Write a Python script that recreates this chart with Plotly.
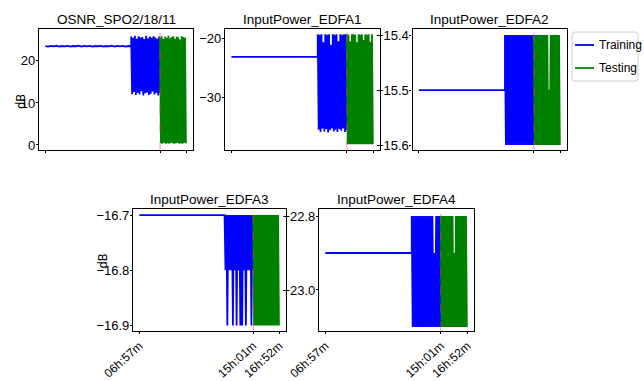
import numpy as np
import plotly.graph_objects as go

# ---------------- data (time in minutes since midnight) ----------------
tick_minutes = [417, 901, 1012]
tick_labels = ["06h:57m", "15h:01m", "16h:52m"]
t_start, t_dense, t_split, t_end = 417, 779, 901, 1010

titles = ["OSNR_SPO2/18/11", "InputPower_EDFA1", "InputPower_EDFA2",
          "InputPower_EDFA3", "InputPower_EDFA4"]
series_names = ["Training", "Testing"]

osnr_flat = [23.5, 23.4, 23.6, 23.45, 23.65, 23.4, 23.55, 23.45, 23.6, 23.4, 23.55, 23.5, 23.65, 23.4, 23.6, 23.45,
             23.6, 23.4, 23.55, 23.5, 23.6, 23.4, 23.55, 23.45, 23.65, 23.4, 23.6, 23.45, 23.6, 23.4, 23.55, 23.5]
osnr_train = [25.8, 12.1, 25.5, 12.6, 26.0, 11.9, 25.3, 12.4, 25.9, 12.0, 25.6, 12.8, 25.7, 11.8, 25.2, 12.3,
              26.0, 12.5, 25.4, 11.9, 25.8, 12.2, 25.5, 12.7, 25.9, 12.0, 25.6, 12.4, 25.3, 11.8, 25.8, 12.3]
osnr_test = [25.6, 0.4, 25.9, 0.3, 25.2, 0.5, 25.8, 0.3, 25.5, 0.4, 26.0, 0.3, 25.4, 0.5, 25.7, 0.4,
             25.9, 0.3, 25.3, 0.4, 25.8, 0.5, 25.6, 0.3, 25.1, 0.4, 25.9, 0.3, 25.7, 0.5, 25.5, 0.4]

edfa1_flat = [-23.1, -23.1, -23.1, -23.1, -23.1, -23.1, -23.1, -23.1]
edfa1_train = [-19.2, -35.6, -19.3, -36.0, -19.2, -35.4, -20.6, -35.9, -19.2, -35.5, -19.3, -36.1, -19.2, -35.7, -21.0, -35.4,
               -19.2, -35.9, -19.3, -35.6, -19.2, -36.0, -20.4, -35.5, -19.2, -35.8, -19.3, -35.4, -19.2, -36.0, -19.2, -35.6]
edfa1_test = [-19.2, -38.1, -19.3, -38.1, -20.4, -38.1, -19.2, -38.1, -19.2, -38.1, -19.3, -38.1, -20.6, -38.1, -19.2, -38.1,
              -19.3, -38.1, -19.2, -38.1, -20.2, -38.1, -19.2, -38.1, -19.3, -38.1, -19.2, -38.1, -20.5, -38.1, -19.2, -38.1]

edfa2_flat = [-15.5, -15.5, -15.5, -15.5, -15.5, -15.5, -15.5, -15.5]
edfa2_train = [-15.4, -15.6, -15.4, -15.6, -15.4, -15.6, -15.4, -15.6, -15.4, -15.6, -15.4, -15.6, -15.4, -15.6, -15.4, -15.6,
               -15.4, -15.6, -15.4, -15.6, -15.4, -15.6, -15.4, -15.6, -15.4, -15.6, -15.4, -15.6, -15.4, -15.6, -15.4, -15.6]
edfa2_test = [-15.4, -15.6, -15.4, -15.6, -15.4, -15.6, -15.4, -15.6, -15.4, -15.6, -15.4, -15.6, -15.4, -15.6, -15.4, -15.6,
              -15.4, -15.6, -15.5, -15.6, -15.4, -15.6, -15.4, -15.6, -15.4, -15.6, -15.4, -15.6, -15.4, -15.6, -15.4, -15.6]

edfa3_flat = [-16.7, -16.7, -16.7, -16.7, -16.7, -16.7, -16.7, -16.7]
edfa3_train = [-16.7, -16.8, -16.7, -16.9, -16.7, -16.8, -16.7, -16.8, -16.7, -16.9, -16.7, -16.8, -16.7, -16.9, -16.7, -16.8,
               -16.7, -16.9, -16.7, -16.9, -16.7, -16.8, -16.7, -16.9, -16.7, -16.8, -16.7, -16.8, -16.7, -16.9, -16.7, -16.8]
edfa3_test = [-16.7, -16.9, -16.7, -16.9, -16.7, -16.9, -16.7, -16.9, -16.7, -16.9, -16.7, -16.9, -16.7, -16.9, -16.7, -16.9,
              -16.7, -16.9, -16.7, -16.9, -16.7, -16.9, -16.7, -16.9, -16.7, -16.9, -16.7, -16.9, -16.7, -16.9, -16.7, -16.9]

edfa4_flat = [-22.9, -22.9, -22.9, -22.9, -22.9, -22.9, -22.9, -22.9]
edfa4_train = [-22.8, -23.1, -22.8, -23.1, -22.8, -23.1, -22.8, -23.1, -22.8, -23.1, -22.8, -23.1, -22.8, -23.1, -22.8, -23.1,
               -22.8, -23.1, -22.8, -23.1, -22.8, -23.1, -22.8, -23.1, -22.9, -23.1, -22.8, -23.1, -22.8, -23.1, -22.8, -23.1]
edfa4_test = [-22.8, -23.1, -22.8, -23.1, -22.8, -23.1, -22.8, -23.1, -22.8, -23.1, -22.8, -23.1, -22.8, -23.1, -22.8, -23.1,
              -22.9, -23.1, -22.8, -23.1, -22.8, -23.1, -22.8, -23.1, -22.8, -23.1, -22.8, -23.1, -22.8, -23.1, -22.8, -23.1]

flats = [osnr_flat, edfa1_flat, edfa2_flat, edfa3_flat, edfa4_flat]
trains = [osnr_train, edfa1_train, edfa2_train, edfa3_train, edfa4_train]
tests = [osnr_test, edfa1_test, edfa2_test, edfa3_test, edfa4_test]

y_ranges = [[-1.2, 27.6], [-39.1, -18.3], [-15.609, -15.389], [-16.91, -16.689], [-23.111, -22.781]]
y_ticks = [[0, 10, 20], [-30, -20], [-15.6, -15.5, -15.4], [-16.9, -16.8, -16.7], [-23.0, -22.8]]
y_fmt = ["d", "d", ".1f", ".1f", ".1f"]

# ---------------- layout geometry (pixels) ----------------
W, H = 644, 381
boxes = [(39, 193, 29, 150), (225, 380, 29, 150), (412.5, 567, 29, 150),
         (133, 286, 209, 331), (319, 474, 209, 331)]

BLUE = "#0000ff"
GREEN = "#008000"
FONT = "Liberation Sans Narrow, sans-serif"

fig = go.Figure()
layout = dict(width=W, height=H, margin=dict(l=0, r=0, t=0, b=0, autoexpand=False),
              paper_bgcolor="white", plot_bgcolor="white", showlegend=False,
              font=dict(family=FONT, size=12, color="black"))
annotations = []
shapes = []

for i in range(5):
    n = i + 1
    xa = "x" if n == 1 else f"x{n}"
    ya = "y" if n == 1 else f"y{n}"
    flat, tr, te = flats[i], trains[i], tests[i]
    t_flat = np.linspace(t_start, t_dense, len(flat))
    t_tr = np.linspace(t_dense, t_split, len(tr))
    t_te = np.linspace(t_split, t_end, len(te))
    fig.add_trace(go.Scatter(x=np.concatenate([t_flat, t_tr]), y=list(flat) + list(tr),
                             mode="lines", line=dict(color=BLUE, width=1.8, simplify=False),
                             name=series_names[0], xaxis=xa, yaxis=ya))
    fig.add_trace(go.Scatter(x=t_te, y=te, mode="lines",
                             line=dict(color=GREEN, width=1.8, simplify=False),
                             name=series_names[1], xaxis=xa, yaxis=ya))
    x0, x1, y0, y1 = boxes[i]
    bottom = i >= 3
    layout["xaxis" if n == 1 else f"xaxis{n}"] = dict(
        domain=[x0 / W, x1 / W], anchor=ya, range=[390, 1040],
        tickvals=tick_minutes, ticktext=tick_labels, showticklabels=bottom,
        tickangle=-42, tickfont=dict(size=12, family=FONT),
        ticks="outside", ticklen=2, tickwidth=1, tickcolor="black",
        showline=True, linecolor="black", linewidth=1.2, mirror=True,
        showgrid=False, zeroline=False, automargin=False)
    layout["yaxis" if n == 1 else f"yaxis{n}"] = dict(
        domain=[1 - y1 / H, 1 - y0 / H], anchor=xa, range=y_ranges[i],
        tickvals=y_ticks[i], tickformat=y_fmt[i], tickfont=dict(size=13, family=FONT),
        ticks="outside", ticklen=2, tickwidth=1.2, tickcolor="black", ticklabelstandoff=-2,
        showline=True, linecolor="black", linewidth=1.2, mirror=True,
        showgrid=False, zeroline=False, automargin=False)
    annotations.append(dict(text=titles[i], x=(x0 + x1) / 2 / W, y=1 - y0 / H,
                            xref="paper", yref="paper", xanchor="center", yanchor="bottom",
                            yshift=0, showarrow=False, font=dict(size=13.5, family=FONT)))
    shapes.append(dict(type="line", xref=xa, yref=f"{ya} domain", x0=t_split, x1=t_split,
                       y0=0, y1=1, line=dict(color="rgba(255,60,60,0.55)", width=1, dash="dash")))

annotations.append(dict(text="dB", x=12.5 / W, y=1 - 92 / H, xref="paper", yref="paper",
                        textangle=-90, showarrow=False,
                        font=dict(size=11.5, family="DejaVu Sans")))
annotations.append(dict(text="dB", x=93 / W, y=1 - 271 / H, xref="paper", yref="paper",
                        textangle=-90, showarrow=False,
                        font=dict(size=11.5, family="DejaVu Sans")))

# ---------------- legend (box, keys, labels) ----------------
lx0, lx1, ly0, ly1, r = 572, 638, 32, 81, 3
def px(x):
    return x / W
def py(y):
    return 1 - y / H
path = (f"M {px(lx0 + r)},{py(ly0)} L {px(lx1 - r)},{py(ly0)} "
        f"Q {px(lx1)},{py(ly0)} {px(lx1)},{py(ly0 + r)} L {px(lx1)},{py(ly1 - r)} "
        f"Q {px(lx1)},{py(ly1)} {px(lx1 - r)},{py(ly1)} L {px(lx0 + r)},{py(ly1)} "
        f"Q {px(lx0)},{py(ly1)} {px(lx0)},{py(ly1 - r)} L {px(lx0)},{py(ly0 + r)} "
        f"Q {px(lx0)},{py(ly0)} {px(lx0 + r)},{py(ly0)} Z")
shapes.append(dict(type="path", xref="paper", yref="paper", path=path,
                   line=dict(color="#d0d0d0", width=1), fillcolor="white"))
for k, (name, col, yy) in enumerate([(series_names[0], BLUE, 45), (series_names[1], GREEN, 68)]):
    shapes.append(dict(type="line", xref="paper", yref="paper", x0=px(575), x1=px(594),
                       y0=py(yy), y1=py(yy), line=dict(color=col, width=1.8)))
    annotations.append(dict(text=name, x=px(598), y=py(yy), xref="paper", yref="paper",
                            xanchor="left", yanchor="middle", showarrow=False, borderpad=0,
                            font=dict(size=12, family=FONT)))

layout["annotations"] = annotations
layout["shapes"] = shapes
fig.update_layout(**layout)
fig.write_html("out.html")
